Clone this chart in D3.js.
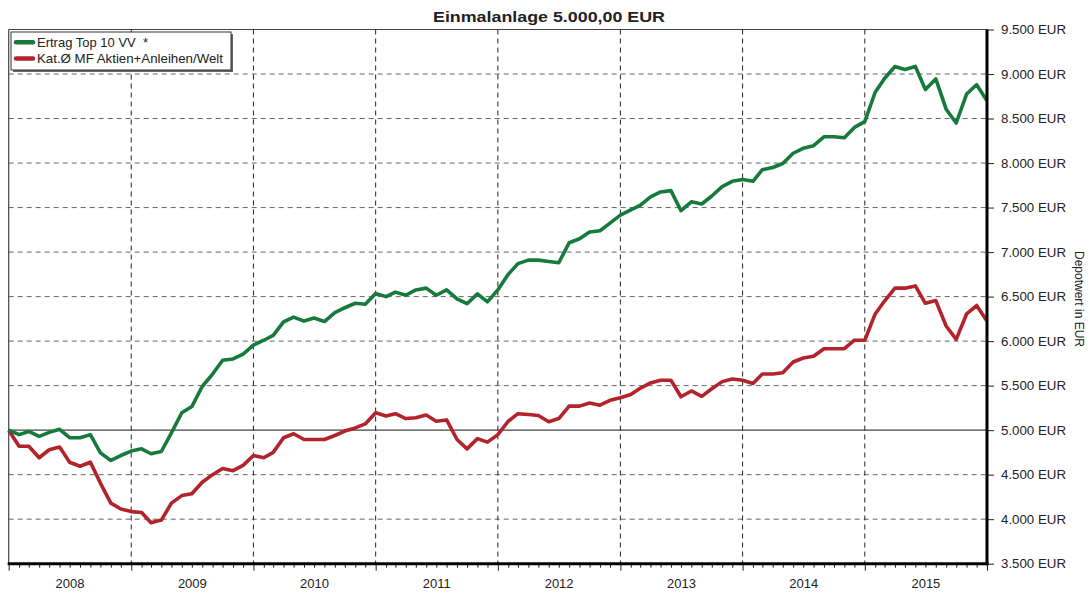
<!DOCTYPE html>
<html>
<head>
<meta charset="utf-8">
<script src="https://cdn.jsdelivr.net/npm/d3@7"></script>
<style>
  body { margin: 0; background: #fff; }
  text { font-family: "Liberation Sans", Arial, sans-serif; fill: #222; white-space: pre; }
</style>
</head>
<body>
<div id="chart-area"></div>
<script>

// Monthly values, start of 2008 to end of 2015
var startMonth = new Date(2008, 0, 1);

var topTen = [5000, 4950, 4985, 4930, 4975, 5010, 4915, 4915, 4950, 4745, 4660, 4715,
  4765, 4790, 4735, 4760, 4970, 5195, 5265, 5490, 5630, 5785, 5800, 5855,
  5955, 6010, 6065, 6215, 6270, 6225, 6260, 6220, 6320, 6375, 6425, 6415,
  6535, 6500, 6550, 6515, 6575, 6595, 6515, 6575, 6475, 6420, 6530, 6440,
  6575, 6750, 6870, 6910, 6910, 6895, 6880, 7105, 7150, 7225, 7240, 7325,
  7415, 7475, 7525, 7620, 7675, 7690, 7465, 7565, 7540, 7630, 7735, 7795,
  7815, 7795, 7925, 7950, 7995, 8110, 8165, 8195, 8295, 8295, 8285, 8400,
  8465, 8795, 8950, 9085, 9050, 9085, 8825, 8945, 8605, 8450, 8775, 8880,
  8700];

var katAvg = [5000, 4820, 4820, 4690, 4780, 4810, 4640, 4595, 4640, 4405, 4180, 4115,
  4085, 4075, 3960, 3990, 4180, 4265, 4285, 4415, 4500, 4570, 4545, 4605,
  4715, 4690, 4750, 4915, 4960, 4895, 4895, 4895, 4940, 4990, 5025, 5070,
  5195, 5160, 5185, 5130, 5140, 5170, 5100, 5115, 4895, 4790, 4905, 4865,
  4950, 5100, 5185, 5175, 5165, 5095, 5130, 5270, 5270, 5305, 5280, 5335,
  5365, 5400, 5470, 5530, 5560, 5560, 5375, 5440, 5380, 5465, 5545, 5575,
  5560, 5525, 5630, 5630, 5645, 5765, 5810, 5830, 5915, 5915, 5915, 6010,
  6010, 6305, 6450, 6595, 6595, 6620, 6425, 6455, 6170, 6020, 6305, 6400,
  6225];

var years = [2008, 2009, 2010, 2011, 2012, 2013, 2014, 2015];
var yTicks = [3500, 4000, 4500, 5000, 5500, 6000, 6500, 7000, 7500, 8000, 8500, 9000, 9500];
var seriesNames = ["Ertrag Top 10 VV  *", "Kat.\u00D8 MF Aktien+Anleihen/Welt"];
var seriesColors = ["#177a3d", "#b3232b"];

var W = 1090, H = 595;
var plot = {left: 8.7, right: 987, top: 29.5, bottom: 563.7};

var dates = d3.timeMonth.range(startMonth, new Date(2016, 0, 2));

var svg = d3.select("#chart-area").append("svg")
    .attr("width", W)
    .attr("height", H);

var x = d3.scaleTime()
    .domain([startMonth, new Date(2016, 0, 1)])
    .range([plot.left, plot.right]);

var y = d3.scaleLinear()
    .domain([3500, 9500])
    .range([plot.bottom, plot.top]);

// title
svg.append("text")
    .attr("x", 549)
    .attr("y", 22)
    .attr("text-anchor", "middle")
    .attr("textLength", 232)
    .attr("lengthAdjust", "spacingAndGlyphs")
    .style("font-size", "15px")
    .style("font-weight", "bold")
    .text("Einmalanlage 5.000,00 EUR");

// horizontal grid
svg.append("g").selectAll("line")
    .data(yTicks.filter(function (d) { return d > 3500; }))
    .enter().append("line")
    .attr("x1", plot.left).attr("x2", plot.right)
    .attr("y1", function (d) { return y(d); })
    .attr("y2", function (d) { return y(d); })
    .attr("stroke", function (d) { return d === 5000 || d === 9500 ? "#444" : "#666"; })
    .attr("stroke-width", function (d) { return d === 5000 || d === 9500 ? 1.2 : 1; })
    .attr("stroke-dasharray", function (d) { return d === 5000 || d === 9500 ? null : "5,4"; });

// vertical year grid
svg.append("g").selectAll("line")
    .data(years.slice(1))
    .enter().append("line")
    .attr("x1", function (d) { return x(new Date(d, 0, 1)); })
    .attr("x2", function (d) { return x(new Date(d, 0, 1)); })
    .attr("y1", plot.top).attr("y2", plot.bottom)
    .attr("stroke", "#222")
    .attr("stroke-width", 1)
    .attr("stroke-dasharray", "5,4");

// left border
svg.append("line")
    .attr("x1", plot.left).attr("x2", plot.left)
    .attr("y1", plot.top).attr("y2", plot.bottom)
    .attr("stroke", "#444").attr("stroke-width", 1.2);

// lines
var line = d3.line()
    .x(function (d, i) { return x(dates[i]); })
    .y(function (d) { return y(d); });

[katAvg, topTen].forEach(function (s, k) {
    svg.append("path")
        .datum(s)
        .attr("fill", "none")
        .attr("stroke", k === 0 ? seriesColors[1] : seriesColors[0])
        .attr("stroke-width", 3.6)
        .attr("stroke-linejoin", "round")
        .attr("d", line);
});

// bottom axis, month ticks
var xAxis = d3.axisBottom(x)
    .ticks(d3.timeMonth.every(1))
    .tickSize(4)
    .tickFormat("");
var gx = svg.append("g")
    .attr("transform", "translate(0," + plot.bottom + ")")
    .call(xAxis);
gx.select(".domain").remove();
gx.selectAll(".tick line")
    .attr("stroke", "#222")
    .attr("y2", function (d) { return d.getMonth() === 0 ? 7 : 4; });

svg.append("line")
    .attr("x1", plot.left - 1).attr("x2", plot.right + 1.5)
    .attr("y1", plot.bottom).attr("y2", plot.bottom)
    .attr("stroke", "#000").attr("stroke-width", 3);

svg.append("g").selectAll("text")
    .data(years)
    .enter().append("text")
    .attr("x", function (d) { return (x(new Date(d, 0, 1)) + x(new Date(d + 1, 0, 1))) / 2; })
    .attr("y", 588)
    .attr("text-anchor", "middle")
    .style("font-size", "13px")
    .text(function (d) { return d; });

// right axis
var yAxis = d3.axisRight(y)
    .tickValues(yTicks)
    .tickSize(7)
    .tickPadding(7)
    .tickFormat(function (d) { return d3.format(",")(d).replace(",", ".") + " EUR"; });
var gy = svg.append("g")
    .attr("transform", "translate(" + plot.right + ",0)")
    .call(yAxis);
gy.select(".domain").remove();
gy.selectAll(".tick line").attr("stroke", "#222");
gy.selectAll(".tick text")
    .attr("textLength", 65)
    .attr("lengthAdjust", "spacingAndGlyphs")
    .style("font-family", "'Liberation Sans', Arial, sans-serif")
    .style("font-size", "13px")
    .attr("fill", "#222");

svg.append("line")
    .attr("x1", plot.right).attr("x2", plot.right)
    .attr("y1", plot.top).attr("y2", plot.bottom + 1.5)
    .attr("stroke", "#000").attr("stroke-width", 3);

svg.append("text")
    .attr("transform", "translate(1075,299) rotate(90)")
    .attr("text-anchor", "middle")
    .style("font-family", "'Liberation Sans Narrow', 'Liberation Sans', sans-serif")
    .style("font-size", "12px")
    .text("Depotwert in EUR");

// legend
var lg = svg.append("g");
lg.append("rect")
    .attr("x", 13).attr("y", 34).attr("width", 220).attr("height", 38)
    .attr("fill", "#666");
lg.append("rect")
    .attr("x", 11).attr("y", 32).attr("width", 220).attr("height", 38)
    .attr("fill", "#fff").attr("stroke", "#333").attr("stroke-width", 1);
var item = lg.selectAll(".item")
    .data(seriesNames)
    .enter().append("g")
    .attr("transform", function (d, i) { return "translate(0," + (42.3 + i * 16.2) + ")"; });
item.append("line")
    .attr("x1", 16).attr("x2", 33)
    .attr("stroke", function (d, i) { return seriesColors[i]; })
    .attr("stroke-width", 4.5)
    .attr("stroke-linecap", "round");
item.append("text")
    .attr("x", 37).attr("y", 4.5)
    .style("font-size", "13px")
    .text(function (d) { return d; });
item.filter(function (d, i) { return i === 1; }).select("text")
    .attr("textLength", 186)
    .attr("lengthAdjust", "spacingAndGlyphs");

</script>
</body>
</html>
